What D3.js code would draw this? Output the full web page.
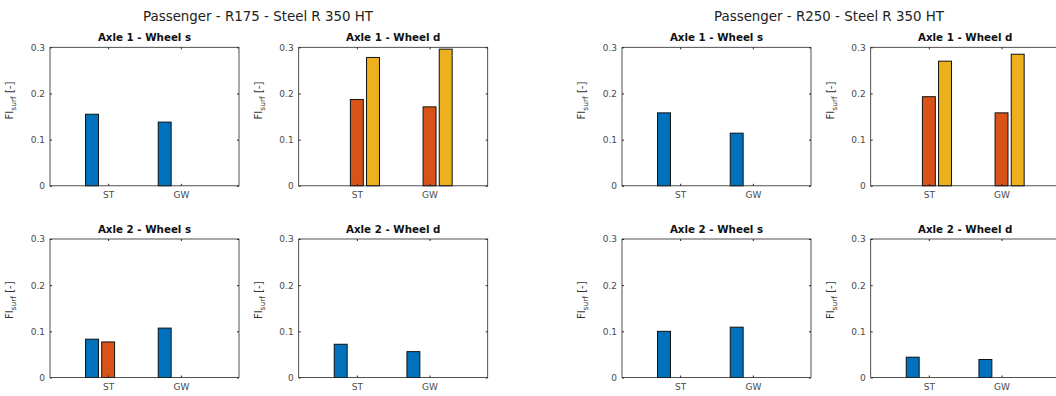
<!DOCTYPE html>
<html>
<head>
<meta charset="utf-8">
<script src="https://cdn.jsdelivr.net/npm/d3@7"></script>
<style>
  html, body { margin: 0; padding: 0; background: #fff; }
  svg { display: block; font-family: "DejaVu Sans", sans-serif; }
</style>
</head>
<body>
<svg id="chart" width="1056" height="396"></svg>
<script>
// Surface fatigue index per wheel, grouped by rail condition
const categories = ["ST", "GW"];
const figureTitles = ["Passenger - R175 - Steel R 350 HT", "Passenger - R250 - Steel R 350 HT"];
const panelTitles = ["Axle 1 - Wheel s", "Axle 1 - Wheel d", "Axle 2 - Wheel s", "Axle 2 - Wheel d"];
const yTicks = [0, 0.1, 0.2, 0.3];
const seriesColors = ["#0072BD", "#D95319", "#EDB120"];

// each panel: three series, each with one value per category [ST, GW]
const r175Axle1S = [[0.155, 0.138], [0, 0], [0, 0]];
const r175Axle1D = [[0, 0], [0.187, 0.171], [0.278, 0.296]];
const r175Axle2S = [[0.083, 0.107], [0.077, 0], [0, 0]];
const r175Axle2D = [[0.072, 0.056], [0, 0], [0, 0]];

const r250Axle1S = [[0.158, 0.114], [0, 0], [0, 0]];
const r250Axle1D = [[0, 0], [0.193, 0.158], [0.270, 0.285]];
const r250Axle2S = [[0.100, 0.109], [0, 0], [0, 0]];
const r250Axle2D = [[0.044, 0.039], [0, 0], [0, 0]];

const figures = [
  { title: figureTitles[0], titleX: 258, left: 50,  panels: [r175Axle1S, r175Axle1D, r175Axle2S, r175Axle2D] },
  { title: figureTitles[1], titleX: 829, left: 622, panels: [r250Axle1S, r250Axle1D, r250Axle2S, r250Axle2D] }
];

const svg = d3.select("#chart");
const axisColor = "#262626";
const panelW = 189, panelH = 138.5;
const colGap = 248.7;          // left edge to left edge of the two columns
const rowTops = [47.3, 239];
const ylabelShift = [-16, -8]; // y-label centre offset per row
const groupWidth = 2 / 3;      // three bars per group
const barW = groupWidth / 3 * 0.8;

figures.forEach(fig => {
  svg.append("text")
    .attr("x", fig.titleX).attr("y", 21)
    .attr("text-anchor", "middle")
    .attr("font-size", 13.4)
    .attr("fill", "#222")
    .text(fig.title);

  fig.panels.forEach((series, pi) => {
    const col = pi % 2, row = Math.floor(pi / 2);
    const x0 = fig.left + col * colGap;
    const y0 = rowTops[row];

    const x = d3.scaleLinear().domain([0.2, 2.8]).range([0, panelW]);
    const y = d3.scaleLinear().domain([0, 0.3]).range([panelH, 0]);

    const g = svg.append("g").attr("transform", `translate(${x0},${y0})`);

    // bars
    series.forEach((vals, si) => {
      const offset = (si - 1) * groupWidth / 3;
      g.append("g").selectAll("rect")
        .data(vals.map((v, ci) => ({ v, c: ci + 1 })))
        .join("rect")
        .filter(d => d.v > 0)
        .attr("x", d => x(d.c + offset - barW / 2))
        .attr("width", d => x(d.c + offset + barW / 2) - x(d.c + offset - barW / 2))
        .attr("y", d => y(d.v))
        .attr("height", d => y(0) - y(d.v))
        .attr("fill", seriesColors[si])
        .attr("stroke", "#111")
        .attr("stroke-width", 1);
    });

    // left y axis with tick labels
    const yAxis = d3.axisLeft(y).tickValues(yTicks)
      .tickFormat(d => d === 0 ? "0" : d3.format(".1f")(d))
      .tickSizeInner(-2).tickSizeOuter(0).tickPadding(5);
    const ya = g.append("g").call(yAxis);
    ya.select(".domain").remove();
    ya.selectAll("line").attr("stroke", axisColor);
    ya.selectAll("text").attr("font-size", 9).attr("fill", "#4a4a4a")
      .attr("font-family", "DejaVu Sans");

    // right inward ticks
    const yr = g.append("g").attr("transform", `translate(${panelW},0)`)
      .call(d3.axisRight(y).tickValues(yTicks).tickSizeInner(-2).tickSizeOuter(0).tickFormat(""));
    yr.select(".domain").remove();
    yr.selectAll("line").attr("stroke", axisColor);

    // bottom x axis with category labels
    const xAxis = d3.axisBottom(x).tickValues([1, 2])
      .tickFormat(d => categories[d - 1])
      .tickSizeInner(-2).tickSizeOuter(0).tickPadding(6);
    const xa = g.append("g").attr("transform", `translate(0,${panelH})`).call(xAxis);
    xa.select(".domain").remove();
    xa.selectAll("line").attr("stroke", axisColor);
    xa.selectAll("text").attr("font-size", 9).attr("fill", "#4a4a4a")
      .attr("font-family", "DejaVu Sans");

    // top inward ticks
    const xt = g.append("g").call(d3.axisTop(x).tickValues([1, 2]).tickSizeInner(-2).tickSizeOuter(0).tickFormat(""));
    xt.select(".domain").remove();
    xt.selectAll("line").attr("stroke", axisColor);

    // box
    g.append("rect")
      .attr("x", 0).attr("y", 0).attr("width", panelW).attr("height", panelH)
      .attr("fill", "none").attr("stroke", axisColor).attr("stroke-width", 0.8);

    // panel title
    g.append("text")
      .attr("x", panelW / 2).attr("y", -6)
      .attr("text-anchor", "middle")
      .attr("font-size", 10.3).attr("font-weight", "bold")
      .attr("fill", "#111")
      .text(panelTitles[pi]);

    // y label: FI_surf [-]
    const yl = g.append("text")
      .attr("transform", `translate(-37,${panelH / 2 + ylabelShift[row]}) rotate(-90)`)
      .attr("text-anchor", "middle")
      .attr("font-size", 10)
      .attr("fill", "#333");
    yl.append("tspan").text("FI");
    yl.append("tspan").attr("font-size", 7.5).attr("dy", 2.8).text("surf");
    yl.append("tspan").attr("dy", -2.8).text(" [-]");
  });
});
</script>
</body>
</html>
